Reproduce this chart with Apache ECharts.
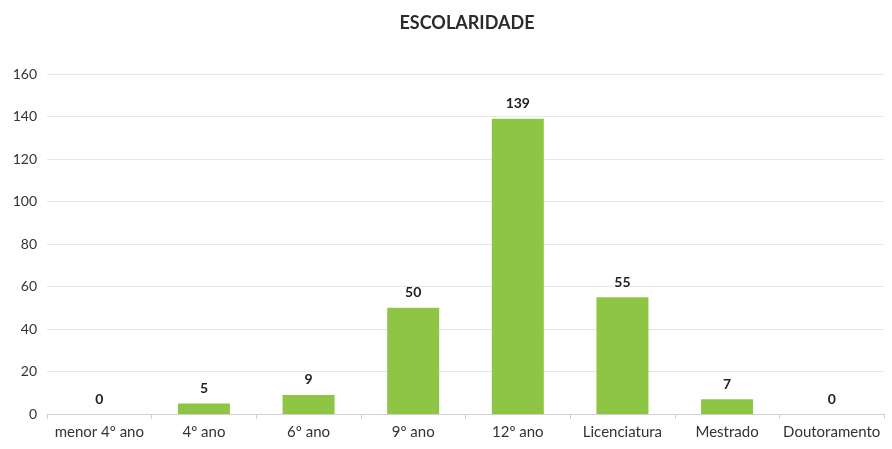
<!DOCTYPE html>
<html>
<head>
<meta charset="utf-8">
<script src="https://cdn.jsdelivr.net/npm/echarts@6/dist/echarts.min.js"></script>
<style>
  html, body { margin: 0; padding: 0; background: #fff; }
  #chart { width: 892px; height: 449px; }
</style>
</head>
<body>
<div id="chart"></div>
<script>
// dados
const categorias = ["menor 4º ano", "4º ano", "6º ano", "9º ano", "12º ano", "Licenciatura", "Mestrado", "Doutoramento"];
const valores = [0, 5, 9, 50, 139, 55, 7, 0];
const titulo = "ESCOLARIDADE";

const chart = echarts.init(document.getElementById("chart"));
const option = {
  backgroundColor: "#fff",
  textStyle: { fontFamily: "Lato, 'Open Sans', sans-serif" },
  title: {
    text: titulo,
    left: 462,
    textAlign: "center",
    top: 9,
    textStyle: { fontSize: 18, fontWeight: "bold", color: "#2b2b2b", fontFamily: "Lato, 'Open Sans', sans-serif" }
  },
  grid: { left: 47, right: 8, top: 74, bottom: 35 },
  xAxis: {
    type: "category",
    data: categorias,
    axisLine: { lineStyle: { color: "#d0d0d0" } },
    axisTick: { show: true, lineStyle: { color: "#d0d0d0" }, length: 5 },
    axisLabel: { color: "#333", fontSize: 15, margin: 11, interval: 0 }
  },
  yAxis: {
    type: "value",
    min: 0,
    max: 160,
    interval: 20,
    axisLine: { show: false },
    axisTick: { show: false },
    axisLabel: { color: "#333", fontSize: 14, margin: 10 },
    splitLine: { lineStyle: { color: "#e6e6e6" } }
  },
  series: [
    {
      type: "bar",
      data: valores,
      barWidth: 52,
      itemStyle: { color: "#8fc545" },
      label: {
        show: true,
        position: "top",
        distance: 8,
        color: "#222",
        fontSize: 14,
        fontWeight: "bold"
      }
    }
  ]
};
chart.setOption(option);
</script>
</body>
</html>
